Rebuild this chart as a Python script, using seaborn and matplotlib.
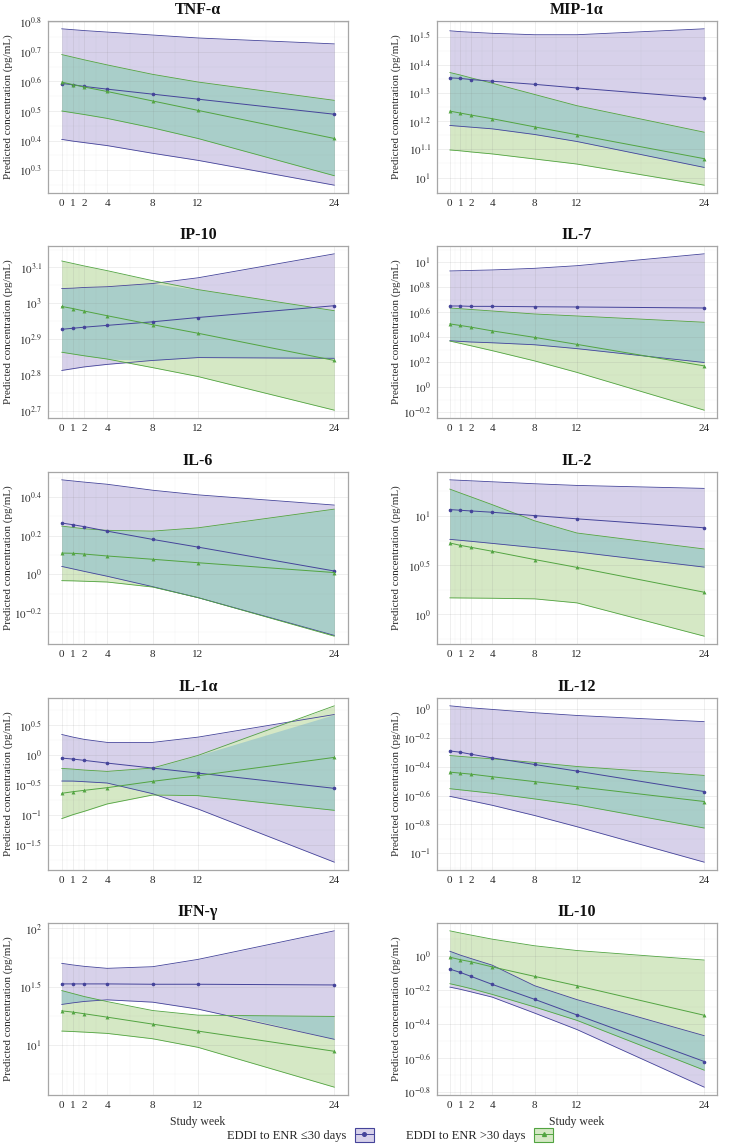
import matplotlib
matplotlib.use("Agg")
import matplotlib.pyplot as plt
import numpy as np
import seaborn as sns
from matplotlib.ticker import FixedLocator, NullFormatter
from matplotlib.patches import Patch
from matplotlib.lines import Line2D
from matplotlib.legend_handler import HandlerTuple

# Study weeks sampled by the model
WEEKS = [0, 1, 2, 4, 8, 12, 24]

# All values are log10(pg/mL).
# "EARLY" = EDDI to ENR <=30 days, "LATE" = EDDI to ENR >30 days
TNF_EARLY_FIT = [0.593, 0.589, 0.583, 0.574, 0.557, 0.540, 0.489]
TNF_EARLY_LO = [0.404, 0.398, 0.393, 0.383, 0.357, 0.333, 0.249]
TNF_EARLY_HI = [0.778, 0.775, 0.772, 0.767, 0.757, 0.747, 0.727]
TNF_LATE_FIT = [0.598, 0.589, 0.581, 0.566, 0.534, 0.502, 0.407]
TNF_LATE_LO = [0.500, 0.494, 0.488, 0.475, 0.443, 0.407, 0.281]
TNF_LATE_HI = [0.691, 0.682, 0.673, 0.656, 0.624, 0.598, 0.536]

MIP_EARLY_FIT = [1.354, 1.352, 1.348, 1.342, 1.331, 1.318, 1.282]
MIP_EARLY_LO = [1.185, 1.182, 1.179, 1.173, 1.153, 1.128, 1.036]
MIP_EARLY_HI = [1.521, 1.518, 1.516, 1.512, 1.507, 1.507, 1.528]
MIP_LATE_FIT = [1.236, 1.229, 1.222, 1.209, 1.180, 1.152, 1.067]
MIP_LATE_LO = [1.098, 1.095, 1.091, 1.084, 1.066, 1.048, 0.973]
MIP_LATE_HI = [1.373, 1.364, 1.354, 1.335, 1.295, 1.255, 1.161]

IP10_EARLY_FIT = [2.927, 2.930, 2.933, 2.938, 2.948, 2.960, 2.993]
IP10_EARLY_LO = [2.812, 2.817, 2.822, 2.829, 2.840, 2.848, 2.846]
IP10_EARLY_HI = [3.041, 3.042, 3.044, 3.046, 3.055, 3.071, 3.138]
IP10_LATE_FIT = [2.991, 2.985, 2.978, 2.965, 2.940, 2.916, 2.840]
IP10_LATE_LO = [2.863, 2.858, 2.853, 2.844, 2.820, 2.795, 2.701]
IP10_LATE_HI = [3.118, 3.111, 3.104, 3.091, 3.063, 3.038, 2.979]

IL7_EARLY_FIT = [0.649, 0.649, 0.646, 0.646, 0.643, 0.641, 0.633]
IL7_EARLY_LO = [0.371, 0.366, 0.361, 0.355, 0.339, 0.308, 0.197]
IL7_EARLY_HI = [0.929, 0.931, 0.933, 0.937, 0.950, 0.971, 1.066]
IL7_LATE_FIT = [0.506, 0.493, 0.480, 0.450, 0.398, 0.342, 0.170]
IL7_LATE_LO = [0.369, 0.350, 0.331, 0.292, 0.210, 0.118, -0.184]
IL7_LATE_HI = [0.633, 0.627, 0.621, 0.609, 0.585, 0.569, 0.519]

IL6_EARLY_FIT = [0.266, 0.257, 0.247, 0.224, 0.181, 0.141, 0.017]
IL6_EARLY_LO = [0.041, 0.028, 0.015, -0.010, -0.064, -0.121, -0.317]
IL6_EARLY_HI = [0.490, 0.484, 0.478, 0.467, 0.436, 0.412, 0.359]
IL6_LATE_FIT = [0.110, 0.109, 0.105, 0.095, 0.078, 0.060, 0.009]
IL6_LATE_LO = [-0.033, -0.034, -0.036, -0.040, -0.066, -0.121, -0.321]
IL6_LATE_HI = [0.250, 0.243, 0.236, 0.228, 0.224, 0.241, 0.338]

IL2_EARLY_FIT = [1.064, 1.057, 1.050, 1.037, 1.003, 0.970, 0.879]
IL2_EARLY_LO = [0.762, 0.752, 0.742, 0.721, 0.678, 0.634, 0.480]
IL2_EARLY_HI = [1.366, 1.361, 1.356, 1.346, 1.326, 1.309, 1.279]
IL2_LATE_FIT = [0.725, 0.701, 0.681, 0.641, 0.557, 0.477, 0.225]
IL2_LATE_LO = [0.168, 0.167, 0.166, 0.164, 0.158, 0.117, -0.221]
IL2_LATE_HI = [1.272, 1.232, 1.193, 1.114, 0.950, 0.826, 0.664]

IL1A_EARLY_FIT = [-0.056, -0.072, -0.094, -0.139, -0.222, -0.306, -0.561]
IL1A_EARLY_LO = [-0.439, -0.440, -0.450, -0.472, -0.650, -0.906, -1.794]
IL1A_EARLY_HI = [0.339, 0.294, 0.256, 0.206, 0.206, 0.294, 0.672]
IL1A_LATE_FIT = [-0.644, -0.617, -0.594, -0.550, -0.444, -0.350, -0.044]
IL1A_LATE_LO = [-1.067, -1.000, -0.944, -0.822, -0.672, -0.683, -0.928]
IL1A_LATE_HI = [-0.228, -0.240, -0.256, -0.278, -0.222, -0.011, 0.817]

IL12_EARLY_FIT = [-0.290, -0.299, -0.313, -0.338, -0.384, -0.430, -0.572]
IL12_EARLY_LO = [-0.605, -0.620, -0.636, -0.667, -0.738, -0.816, -1.062]
IL12_EARLY_HI = [0.023, 0.016, 0.009, -0.002, -0.025, -0.044, -0.087]
IL12_LATE_FIT = [-0.437, -0.444, -0.451, -0.469, -0.503, -0.538, -0.641]
IL12_LATE_LO = [-0.552, -0.560, -0.568, -0.584, -0.623, -0.664, -0.825]
IL12_LATE_HI = [-0.322, -0.328, -0.334, -0.345, -0.370, -0.398, -0.460]

IFNG_EARLY_FIT = [1.523, 1.523, 1.523, 1.523, 1.520, 1.520, 1.514]
IFNG_EARLY_LO = [1.346, 1.360, 1.372, 1.386, 1.366, 1.306, 1.046]
IFNG_EARLY_HI = [1.700, 1.686, 1.674, 1.657, 1.671, 1.734, 1.980]
IFNG_LATE_FIT = [1.291, 1.280, 1.266, 1.237, 1.177, 1.117, 0.943]
IFNG_LATE_LO = [1.117, 1.113, 1.108, 1.097, 1.051, 0.977, 0.634]
IFNG_LATE_HI = [1.466, 1.440, 1.414, 1.371, 1.294, 1.254, 1.243]

IL10_EARLY_FIT = [-0.078, -0.098, -0.121, -0.168, -0.256, -0.348, -0.622]
IL10_EARLY_LO = [-0.184, -0.197, -0.212, -0.243, -0.337, -0.434, -0.773]
IL10_EARLY_HI = [0.027, 0.004, -0.016, -0.055, -0.176, -0.258, -0.470]
IL10_LATE_FIT = [-0.008, -0.023, -0.035, -0.065, -0.121, -0.176, -0.350]
IL10_LATE_LO = [-0.164, -0.178, -0.193, -0.227, -0.301, -0.380, -0.673]
IL10_LATE_HI = [0.147, 0.134, 0.122, 0.098, 0.059, 0.031, -0.025]

# title, y tick exponents, early series, late series
PANELS = [
    ("TNF-α", np.arange(0.3, 0.81, 0.1),
     (TNF_EARLY_FIT, TNF_EARLY_LO, TNF_EARLY_HI), (TNF_LATE_FIT, TNF_LATE_LO, TNF_LATE_HI)),
    ("MIP-1α", np.arange(1.0, 1.51, 0.1),
     (MIP_EARLY_FIT, MIP_EARLY_LO, MIP_EARLY_HI), (MIP_LATE_FIT, MIP_LATE_LO, MIP_LATE_HI)),
    ("IP-10", np.arange(2.7, 3.11, 0.1),
     (IP10_EARLY_FIT, IP10_EARLY_LO, IP10_EARLY_HI), (IP10_LATE_FIT, IP10_LATE_LO, IP10_LATE_HI)),
    ("IL-7", np.arange(-0.2, 1.01, 0.2),
     (IL7_EARLY_FIT, IL7_EARLY_LO, IL7_EARLY_HI), (IL7_LATE_FIT, IL7_LATE_LO, IL7_LATE_HI)),
    ("IL-6", np.arange(-0.2, 0.41, 0.2),
     (IL6_EARLY_FIT, IL6_EARLY_LO, IL6_EARLY_HI), (IL6_LATE_FIT, IL6_LATE_LO, IL6_LATE_HI)),
    ("IL-2", np.arange(0.0, 1.01, 0.5),
     (IL2_EARLY_FIT, IL2_EARLY_LO, IL2_EARLY_HI), (IL2_LATE_FIT, IL2_LATE_LO, IL2_LATE_HI)),
    ("IL-1α", np.arange(-1.5, 0.51, 0.5),
     (IL1A_EARLY_FIT, IL1A_EARLY_LO, IL1A_EARLY_HI), (IL1A_LATE_FIT, IL1A_LATE_LO, IL1A_LATE_HI)),
    ("IL-12", np.arange(-1.0, 0.01, 0.2),
     (IL12_EARLY_FIT, IL12_EARLY_LO, IL12_EARLY_HI), (IL12_LATE_FIT, IL12_LATE_LO, IL12_LATE_HI)),
    ("IFN-γ", np.arange(1.0, 2.01, 0.5),
     (IFNG_EARLY_FIT, IFNG_EARLY_LO, IFNG_EARLY_HI), (IFNG_LATE_FIT, IFNG_LATE_LO, IFNG_LATE_HI)),
    ("IL-10", np.arange(-0.8, 0.01, 0.2),
     (IL10_EARLY_FIT, IL10_EARLY_LO, IL10_EARLY_HI), (IL10_LATE_FIT, IL10_LATE_LO, IL10_LATE_HI)),
]

EARLY_LABEL = "EDDI to ENR ≤30 days"
LATE_LABEL = "EDDI to ENR >30 days"

EARLY_LINE = "#45449a"
EARLY_FILL = "#d7d1ea"
LATE_LINE = "#52a441"
LATE_FILL = "#d5e8c5"
BOTH_FILL = "#a9cec9"

W, H = 738, 1147

sns.set_theme(style="white")
plt.rcParams["font.family"] = ["Liberation Serif", "DejaVu Serif"]
plt.rcParams["mathtext.fontset"] = "stix"


def exp_label(e):
    e = round(float(e), 2)
    if e == 0:
        e = 0.0
    return r"$10^{%s}$" % f"{e:g}"


def add_px_axes(fig, left, top, right, bottom):
    return fig.add_axes([left / W, 1 - bottom / H, (right - left) / W, (bottom - top) / H])


fig = plt.figure(figsize=(W / 100, H / 100), dpi=100)

row_tops = [21, 246, 472, 698, 923]
cols = [(48, 348, 13), (437, 717, 401)]
row_h = 172

for i, (title, exps, early, late) in enumerate(PANELS):
    r, c = divmod(i, 2)
    left, right, lab_x = cols[c]
    top = row_tops[r]
    ax = add_px_axes(fig, left, top, right, top + row_h)
    ax.set_yscale("log")

    e_fit, e_lo, e_hi = [10 ** np.array(v) for v in early]
    l_fit, l_lo, l_hi = [10 ** np.array(v) for v in late]

    ax.fill_between(WEEKS, e_lo, e_hi, color=EARLY_FILL, lw=0, zorder=1)
    ax.fill_between(WEEKS, l_lo, l_hi, color=LATE_FILL, lw=0, zorder=1)
    both_lo = np.maximum(e_lo, l_lo)
    both_hi = np.minimum(e_hi, l_hi)
    ax.fill_between(WEEKS, both_lo, both_hi, where=both_hi > both_lo,
                    interpolate=True, color=BOTH_FILL, lw=0, zorder=1.1)

    for lo, hi, col in [(e_lo, e_hi, EARLY_LINE), (l_lo, l_hi, LATE_LINE)]:
        ax.plot(WEEKS, lo, color=col, lw=0.6, zorder=2)
        ax.plot(WEEKS, hi, color=col, lw=0.6, zorder=2)

    sns.lineplot(x=WEEKS, y=e_fit, ax=ax, color=EARLY_LINE, lw=0.7,
                 marker="o", markersize=2.6, markeredgewidth=0, zorder=3)
    sns.lineplot(x=WEEKS, y=l_fit, ax=ax, color=LATE_LINE, lw=0.7,
                 marker="^", markersize=2.8, markeredgewidth=0, zorder=3)

    ax.set_xlim(-1.2, 25.2)
    ax.set_xticks(WEEKS)
    ax.xaxis.set_minor_locator(FixedLocator([0.5, 1.5, 3, 6, 10, 18]))

    ax.yaxis.set_major_locator(FixedLocator(10 ** exps))
    ax.set_yticklabels([exp_label(e) for e in exps])
    step = exps[1] - exps[0]
    minors = np.concatenate([exps - step / 2, [exps[-1] + step / 2]])
    ax.yaxis.set_minor_locator(FixedLocator(10 ** minors))
    ax.yaxis.set_minor_formatter(NullFormatter())

    ax.set_axisbelow("line")
    ax.grid(True, which="major", color="#808080", alpha=0.18, lw=0.5)
    ax.grid(True, which="minor", color="#808080", alpha=0.09, lw=0.35)
    ax.tick_params(which="major", length=2.5, width=0.6, color="#7f7f7f",
                   labelsize=8, labelcolor="#2b2b2b", pad=2)
    ax.tick_params(which="minor", length=0)
    for sp in ax.spines.values():
        sp.set_color("#a6a6a6")
        sp.set_linewidth(0.9)

    ax.set_title(title, fontsize=11.5, fontweight="bold", pad=5, color="#111111")
    ax.set_ylabel("Predicted concentration (pg/mL)", fontsize=8, color="#2b2b2b")
    ax.yaxis.set_label_coords((lab_x - left) / (right - left), 0.5)
    if r == 4:
        ax.set_xlabel("Study week", fontsize=8.5, color="#2b2b2b", labelpad=4)

handles = [
    (Patch(facecolor=EARLY_FILL, edgecolor=EARLY_LINE, lw=0.8),
     Line2D([], [], color=EARLY_LINE, lw=0.7, marker="o", markersize=2.6)),
    (Patch(facecolor=LATE_FILL, edgecolor=LATE_LINE, lw=0.8),
     Line2D([], [], color=LATE_LINE, lw=0.7, marker="^", markersize=2.8)),
]
fig.legend(handles, [EARLY_LABEL, LATE_LABEL], loc="center",
           bbox_to_anchor=(390 / W, 1 - 1135 / H), ncol=2, frameon=False,
           markerfirst=False, handler_map={tuple: HandlerTuple(ndivide=1)},
           handlelength=1.5, handleheight=1.3, columnspacing=2.6,
           handletextpad=0.7, fontsize=9)

fig.savefig("out.png", dpi=100)
